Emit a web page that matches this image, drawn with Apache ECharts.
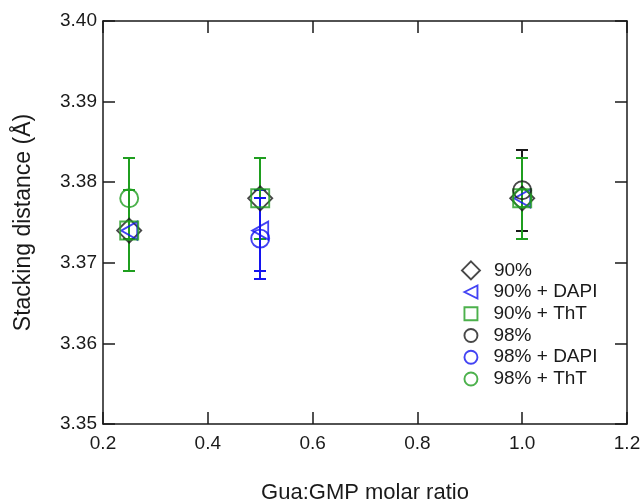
<!DOCTYPE html>
<html>
<head>
<meta charset="utf-8">
<script src="https://cdn.jsdelivr.net/npm/echarts@6/dist/echarts.min.js"></script>
<style>
  html, body { margin: 0; padding: 0; background: #fff; }
  #chart { width: 643px; height: 501px; }
</style>
</head>
<body>
<div id="chart"></div>
<script>
// Gua:GMP molar ratio (x) vs stacking distance (y), error = half-width of bar
const ratios = [0.25, 0.5, 1.0];

const y90 = [3.374, 3.378, 3.378];
const y90Dapi = [3.374, 3.374, 3.378];
const y90Tht = [3.374, 3.378, 3.378];
const y98 = [null, null, 3.379];
const y98Dapi = [null, 3.373, null];
const y98Tht = [3.378, null, 3.378];

const err90 = [0.005, 0.005, 0.005];
const err90Dapi = [0.005, 0.005, 0.005];
const err90Tht = [0.005, 0.005, 0.005];
const err98 = [0.005, 0.005, 0.005];
const err98Dapi = [0.005, 0.005, 0.005];
const err98Tht = [0.005, 0.005, 0.005];

const xTicks = [0.2, 0.4, 0.6, 0.8, 1.0, 1.2];
const yTicks = [3.35, 3.36, 3.37, 3.38, 3.39, 3.40];

const BLACK = '#1a1a1a';
const BLUE = '#1414f0';
const GREEN = '#1f9e1f';
const FONT = 'Liberation Sans, Arial, sans-serif';
const TRI_LEFT = 'path://M0,5L10,0L10,10Z';

const groups = [
  { name: '90%', ys: y90, errs: err90, color: BLACK, symbol: 'diamond', size: 24 },
  { name: '90% + DAPI', ys: y90Dapi, errs: err90Dapi, color: BLUE, symbol: TRI_LEFT, size: [16, 18] },
  { name: '90% + ThT', ys: y90Tht, errs: err90Tht, color: GREEN, symbol: 'rect', size: 18 },
  { name: '98%', ys: y98, errs: err98, color: BLACK, symbol: 'circle', size: 18 },
  { name: '98% + DAPI', ys: y98Dapi, errs: err98Dapi, color: BLUE, symbol: 'circle', size: 18 },
  { name: '98% + ThT', ys: y98Tht, errs: err98Tht, color: GREEN, symbol: 'circle', size: 18 }
];

function errorBars(g) {
  const data = [];
  ratios.forEach((x, i) => {
    if (g.ys[i] != null) data.push([x, g.ys[i] - g.errs[i], g.ys[i] + g.errs[i]]);
  });
  return {
    type: 'custom',
    name: g.name + ' err',
    silent: true,
    data: data,
    renderItem: (params, api) => {
      const lo = api.coord([api.value(0), api.value(1)]);
      const hi = api.coord([api.value(0), api.value(2)]);
      // snap to whole pixels so overlapping bars cover each other cleanly
      const x = Math.round(lo[0]);
      const y1 = Math.round(lo[1]);
      const y2 = Math.round(hi[1]);
      const hw = 6;
      const style = { stroke: g.color, lineWidth: 2 };
      return {
        type: 'group',
        children: [
          { type: 'line', shape: { x1: x, y1: y1, x2: x, y2: y2 }, style },
          { type: 'line', shape: { x1: x - hw, y1: y1, x2: x + hw, y2: y1 }, style },
          { type: 'line', shape: { x1: x - hw, y1: y2, x2: x + hw, y2: y2 }, style }
        ]
      };
    }
  };
}

function markers(g) {
  const data = [];
  ratios.forEach((x, i) => {
    if (g.ys[i] != null) data.push([x, g.ys[i]]);
  });
  return {
    type: 'scatter',
    name: g.name,
    symbol: g.symbol,
    symbolSize: g.size,
    itemStyle: { color: 'rgba(0,0,0,0)', borderColor: g.color, borderWidth: 1.9 },
    data: data
  };
}

const series = [];
groups.forEach(g => {
  series.push(errorBars(g));
  series.push(markers(g));
});

const axisLine = { show: true, lineStyle: { color: BLACK, width: 1.5 } };
const axisTick = { show: true, inside: true, length: 12, lineStyle: { color: BLACK, width: 1.5 } };
const tickLabel = { color: BLACK, fontFamily: FONT, fontSize: 19 };

const chart = echarts.init(document.getElementById('chart'));
chart.setOption({
  animation: false,
  backgroundColor: '#fff',
  grid: { left: 103, right: 16, top: 21, bottom: 77, containLabel: false, outerBoundsMode: 'none' },
  legend: [
    {
      data: [{ name: '90%', icon: 'diamond' }],
      orient: 'vertical',
      left: 456,
      top: 255.5,
      itemWidth: 18,
      itemHeight: 18,
      itemGap: 3,
      itemStyle: { borderWidth: 1.9 },
      textStyle: { color: BLACK, fontFamily: FONT, fontSize: 19, lineHeight: 19, padding: [0, 0, 0, 9] },
      selectedMode: false
    },
    {
      data: [
        { name: '90% + DAPI', icon: TRI_LEFT },
        { name: '90% + ThT', icon: 'rect' },
        { name: '98%', icon: 'circle' },
        { name: '98% + DAPI', icon: 'circle' },
        { name: '98% + ThT', icon: 'circle' }
      ],
      orient: 'vertical',
      left: 458.5,
      top: 277.5,
      itemWidth: 13,
      itemHeight: 13,
      itemGap: 2.75,
      itemStyle: { borderWidth: 1.9 },
      textStyle: { color: BLACK, fontFamily: FONT, fontSize: 19, lineHeight: 19, padding: [0, 0, 0, 11] },
      selectedMode: false
    }
  ],
  xAxis: [
    {
      type: 'value',
      min: xTicks[0],
      max: xTicks[xTicks.length - 1],
      interval: 0.2,
      name: 'Gua:GMP molar ratio',
      nameLocation: 'middle',
      nameGap: 58,
      nameTextStyle: { color: BLACK, fontFamily: FONT, fontSize: 22 },
      axisLine: axisLine,
      axisTick: axisTick,
      axisLabel: Object.assign({ margin: 10, formatter: v => v.toFixed(1) }, tickLabel),
      splitLine: { show: false }
    },
    {
      type: 'value',
      position: 'top',
      min: xTicks[0],
      max: xTicks[xTicks.length - 1],
      interval: 0.2,
      axisLine: axisLine,
      axisTick: axisTick,
      axisLabel: { show: false },
      splitLine: { show: false }
    }
  ],
  yAxis: [
    {
      type: 'value',
      min: yTicks[0],
      max: yTicks[yTicks.length - 1],
      interval: 0.01,
      name: 'Stacking distance (Å)',
      nameLocation: 'middle',
      nameGap: 68,
      nameTextStyle: { color: BLACK, fontFamily: FONT, fontSize: 23 },
      axisLine: axisLine,
      axisTick: axisTick,
      axisLabel: Object.assign({ margin: 6, formatter: v => v.toFixed(2) }, tickLabel),
      splitLine: { show: false }
    },
    {
      type: 'value',
      position: 'right',
      min: yTicks[0],
      max: yTicks[yTicks.length - 1],
      interval: 0.01,
      axisLine: axisLine,
      axisTick: axisTick,
      axisLabel: { show: false },
      splitLine: { show: false }
    }
  ],
  series: series
});
</script>
</body>
</html>
